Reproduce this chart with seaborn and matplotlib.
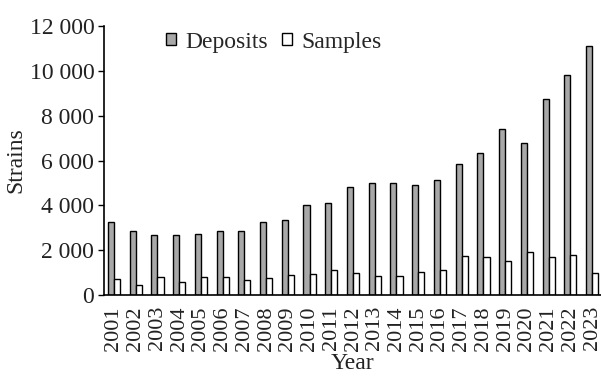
import matplotlib
matplotlib.use("Agg")
import matplotlib.pyplot as plt
import seaborn as sns
import pandas as pd
from matplotlib.patches import Patch

years = [str(y) for y in range(2001, 2024)]
deposits = [3270, 2850, 2680, 2680, 2710, 2870, 2870, 3240, 3350, 4000, 4120, 4800,
            5010, 4980, 4900, 5140, 5840, 6330, 7390, 6770, 8740, 9830, 11120]
samples = [710, 460, 800, 600, 800, 820, 670, 770, 890, 920, 1130, 960,
           860, 850, 1010, 1100, 1740, 1710, 1500, 1920, 1710, 1770, 990]
series_names = ["Deposits", "Samples"]
y_ticks = [0, 2000, 4000, 6000, 8000, 10000, 12000]
y_tick_labels = ["0", "2 000", "4 000", "6 000", "8 000", "10 000", "12 000"]

df = pd.DataFrame({
    "Year": years * 2,
    "Strains": deposits + samples,
    "Series": [series_names[0]] * len(years) + [series_names[1]] * len(years),
})

sns.set_theme(style="white")
plt.rcParams["font.family"] = ["Liberation Serif", "DejaVu Serif"]

fig = plt.figure(figsize=(6.01, 3.77), dpi=100)
ax = fig.add_axes([0.173, 0.2175, 0.827, 0.7135])

colors = ["#a8a8a8", "#ffffff"]
sns.barplot(data=df, x="Year", y="Strains", hue="Series", palette=colors,
            width=0.56, edgecolor="black", linewidth=1.0, ax=ax, legend=False)

ax.set_ylim(0, 12000)
ax.set_xlim(-0.46, len(years) - 1 + 0.41)
ax.set_yticks(y_ticks)
ax.set_yticklabels(y_tick_labels, fontsize=17, color="#222222")
ax.tick_params(axis="y", direction="out", length=4, width=1, color="black", pad=3, left=True)
ax.tick_params(axis="x", length=0, pad=8)
for lbl in ax.get_xticklabels():
    lbl.set_rotation(90)
    lbl.set_fontsize(16)
    lbl.set_color("#222222")

for s in ["top", "right"]:
    ax.spines[s].set_visible(False)
for s in ["left", "bottom"]:
    ax.spines[s].set_color("black")
    ax.spines[s].set_linewidth(1.2)

ax.set_ylabel("Strains", fontsize=17, color="#222222", labelpad=2)
ax.set_xlabel("Year", fontsize=17, color="#222222", labelpad=2)

handles = [Patch(facecolor=colors[0], edgecolor="black", linewidth=1.0),
           Patch(facecolor=colors[1], edgecolor="black", linewidth=1.0)]
ax.legend(handles, series_names, loc="center left", bbox_to_anchor=(0.106, 0.94),
          frameon=False, fontsize=17, ncol=2, handlelength=0.42, handleheight=0.42,
          handletextpad=0.4, columnspacing=0.6, borderaxespad=0)

fig.savefig("out.png", dpi=100)
